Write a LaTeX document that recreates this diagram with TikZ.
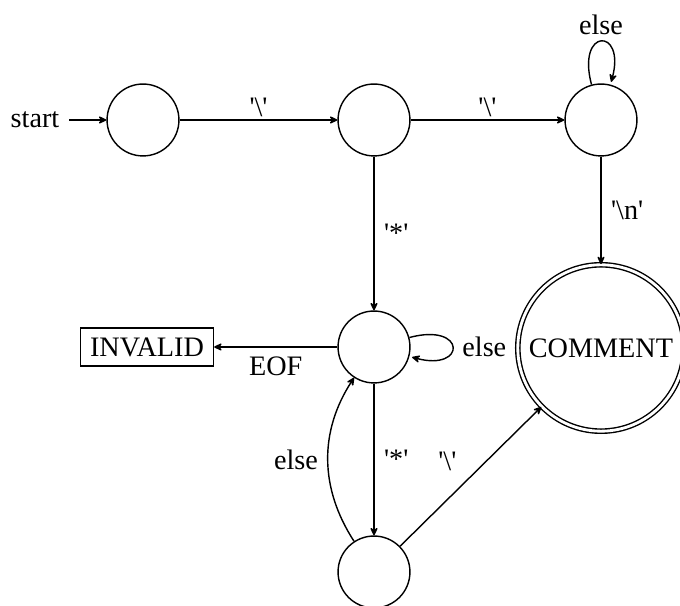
\documentclass[tikz,border=0pt]{standalone}
\usepackage{fontspec}
\setmainfont{Liberation Serif}
\usetikzlibrary{arrows.meta}
\newcommand\sq{\textquotesingle}
\begin{document}
\begin{tikzpicture}[x=0.3546pt,y=-0.3546pt,
  line width=0.5pt,
  >={Stealth[round,length=3.6pt,width=3.4pt,inset=1.4pt]},
  every edge/.style={draw,->},
  state/.style={circle,draw,minimum size=25.5pt,inner sep=0pt},
  accept/.style={circle,draw,double,double distance=1pt,minimum size=59pt,inner sep=0pt},
  box/.style={rectangle,draw,inner sep=3.4pt},
  toplabel/.style={above,yshift=-2.5pt}]
  \useasboundingbox (0,0) rectangle (680,606);
  \clip (0,0) rectangle (680,606);

  % states
  \node[state] (q0) at (143,120) {};
  \node[state] (q1) at (374,120) {};
  \node[state] (q2) at (601,120) {};
  \node[state] (q3) at (374,347) {};
  \node[state] (q4) at (374,572) {};
  \node[accept] (acc) at (601,348) {COMMENT};
  \node[box] (bad) at (147,347) {INVALID};
  \node (start) at (35,120) {start};

  % transitions
  \draw[->] (start) -- (q0);
  \path (q0) edge node[toplabel] {\sq\textbackslash\sq} (q1)
        (q1) edge node[toplabel] {\sq\textbackslash\sq} (q2)
        (q2) edge[loop above] node[above,yshift=-1pt] {else} (q2)
        (q2) edge node[right] {\sq\textbackslash n\sq} (acc)
        (q1) edge node[right] {\sq*\sq} (q3)
        (q3) edge node[below] {EOF} (bad)
        (q3) edge[loop right] node[right] {else} (q3)
        (q3) edge node[right] {\sq*\sq} (q4)
        (q4) edge[bend left=33] node[left] {else} (q3)
        (q4) edge node[above left,pos=0.47] {\sq\textbackslash\sq} (acc);
\end{tikzpicture}
\end{document}
